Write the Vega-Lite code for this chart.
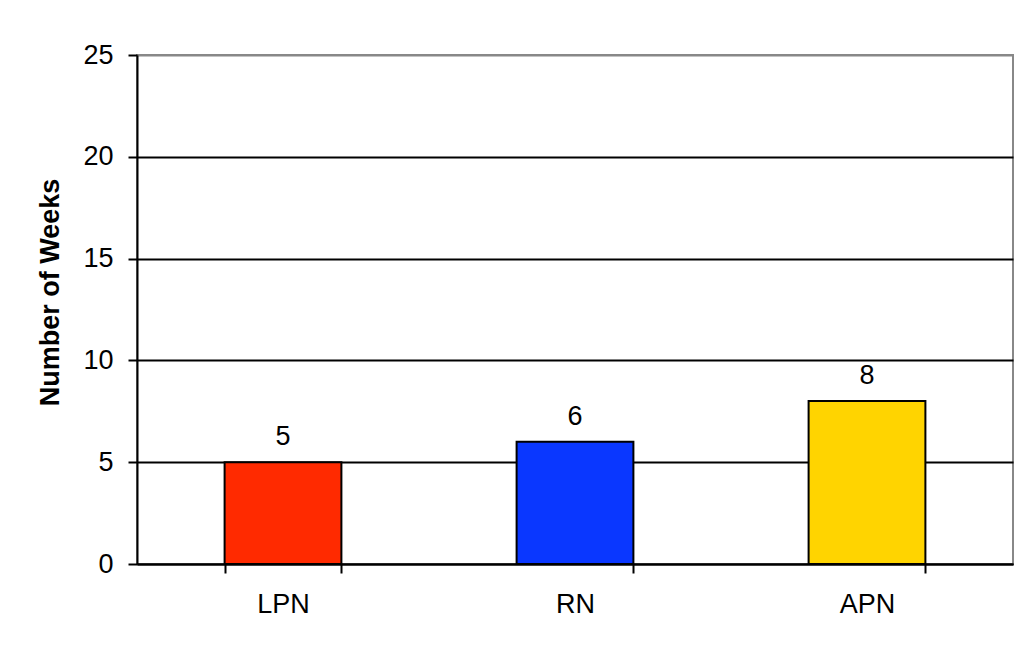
{
  "$schema": "https://vega.github.io/schema/vega-lite/v6.json",
  "autosize": "none",
  "width": 876,
  "height": 509,
  "padding": {"left": 137, "top": 55, "right": 8, "bottom": 86},
  "background": "white",
  "config": {
    "font": "Liberation Sans",
    "view": {"stroke": "#888888", "strokeWidth": 2}
  },
  "data": {
    "values": [
      {"role": "LPN", "weeks": 5, "color": "#FF2A00"},
      {"role": "RN", "weeks": 6, "color": "#0A37FF"},
      {"role": "APN", "weeks": 8, "color": "#FFD400"}
    ]
  },
  "encoding": {
    "x": {
      "field": "role", "type": "nominal", "sort": null,
      "scale": {"paddingInner": 0.6, "paddingOuter": 0.3},
      "axis": {
        "title": null, "labelAngle": 0, "labelFontSize": 27, "labelColor": "black",
        "domainColor": "black", "domainWidth": 2, "tickColor": "black", "tickWidth": 2,
        "tickSize": 9, "tickBand": "extent", "labelPadding": 18
      }
    },
    "y": {
      "field": "weeks", "type": "quantitative",
      "scale": {"domain": [0, 25]},
      "axis": {
        "title": "Number of Weeks", "titleFontSize": 27, "titleFontWeight": "bold",
        "titleColor": "black", "titlePadding": 18, "titleY": 237,
        "values": [0, 5, 10, 15, 20, 25],
        "labelFontSize": 27, "labelColor": "black", "labelPadding": 15,
        "domainColor": "black", "domainWidth": 2, "tickColor": "black", "tickWidth": 2, "tickSize": 9,
        "grid": true, "gridWidth": 2,
        "gridColor": {"condition": {"test": "datum.value === 25", "value": "#888888"}, "value": "black"}
      }
    }
  },
  "layer": [
    {
      "mark": {"type": "bar", "stroke": "black", "strokeWidth": 2},
      "encoding": {"color": {"field": "color", "type": "nominal", "scale": null}}
    },
    {
      "mark": {"type": "text", "baseline": "alphabetic", "dy": -17, "fontSize": 27, "color": "black"},
      "encoding": {"text": {"field": "weeks", "type": "quantitative"}}
    }
  ]
}
